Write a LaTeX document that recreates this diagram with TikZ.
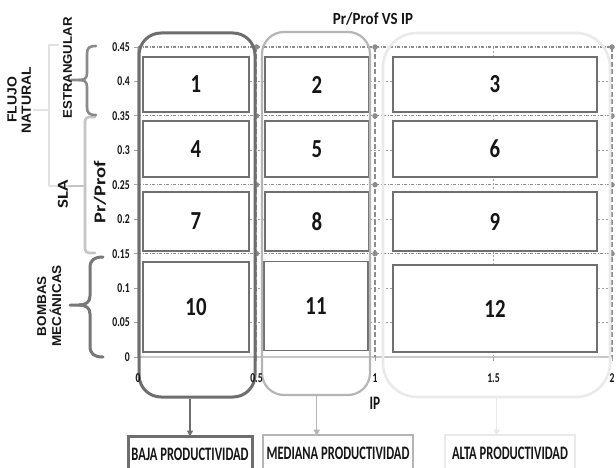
\documentclass[tikz,border=0pt]{standalone}
\usepackage{fontspec}
\setmainfont{Carlito}
\newfontfamily\arialf{Liberation Sans}
\usepackage{graphicx}
\usetikzlibrary{arrows.meta}
\definecolor{grpdark}{HTML}{6E6E6E}
\definecolor{grpmid}{HTML}{B5B5B5}
\definecolor{grplight}{HTML}{EAEAEA}
\definecolor{boxline}{HTML}{707070}
\definecolor{gridc}{HTML}{A0A0A0}
\definecolor{serc}{HTML}{8C8C8C}
\definecolor{braceA}{HTML}{8A8A8A}
\definecolor{braceB}{HTML}{C4C4C4}
\definecolor{braceC}{HTML}{E2E2E2}
\definecolor{braceD}{HTML}{777777}
\definecolor{axisc}{HTML}{C8C8C8}
\definecolor{txt}{HTML}{151515}
\newcommand{\hsq}[2]{\scalebox{#1}[1]{#2}}
\newcommand{\vsq}[2]{\scalebox{1}[#1]{#2}}
\begin{document}
\begin{tikzpicture}[x=1pt,y=-1pt,
  every node/.style={text=txt},
  cell/.style={draw=boxline,line width=1.3pt,fill=white,inner sep=0pt,font=\fontsize{26}{26}\selectfont\bfseries},
  grp/.style={rounded corners=22pt,inner sep=0pt},
  botbox/.style={inner sep=0pt,font=\fontsize{19}{19}\selectfont\bfseries},
  gridl/.style={gridc,line width=0.8pt,dash pattern=on 2pt off 2pt},
  serl/.style={serc,line width=1.1pt,dash pattern=on 3pt off 1.5pt on 1pt off 1.5pt},
  verl/.style={serc,line width=1.1pt,dash pattern=on 5pt off 2.5pt},
  mk/.style={circle,fill=serc,inner sep=0pt,minimum size=5.5pt},
  tickl/.style={font=\fontsize{13.5}{13.5}\selectfont\bfseries,inner sep=0pt},
  arr/.style={-{Triangle[length=6pt,width=6pt]}},
  brc/.style={line width=2.6pt,line cap=round,line join=round}
]
\useasboundingbox (0,0) rectangle (616,468);
\clip (0,0) rectangle (616,468);
\fill[white] (0,0) rectangle (616,468);

% grid lines behind
\foreach \yy in {81.4,150.3,219.2,288.1,322.6}
  \draw[gridl] (138,\yy) -- (612,\yy);
\draw[gridl] (493.5,47) -- (493.5,357);
% axes
\draw[axisc,line width=1.6pt] (138,357) -- (612,357);
\draw[axisc,line width=1.6pt] (138,47) -- (138,357);
\foreach \yy in {47,81.4,115.9,150.3,184.8,219.2,253.7,288.1,322.6,357}
  \draw[gridc,line width=0.8pt] (134,\yy) -- (138,\yy);
\foreach \xx in {256.5,375,493.5,612}
  \draw[gridc,line width=0.8pt] (\xx,357) -- (\xx,361);
% series lines
\foreach \yy in {47,115.9,184.8,253.7}
  \draw[serl] (138,\yy) -- (612,\yy);
\foreach \xx in {256.5,375,612}
  \draw[verl] (\xx,47) -- (\xx,357);
\foreach \yy in {47,115.9,184.8,253.7}
  \foreach \xx in {256.5,375,612}
    \node[mk] at (\xx,\yy) {};

% cells
\node[cell,minimum width=106pt,minimum height=55pt] (c1) at (196,84.5) {\hsq{0.8}{1}};
\node[cell,minimum width=104pt,minimum height=55pt] (c2) at (317,84.5) {\hsq{0.8}{2}};
\node[cell,minimum width=204pt,minimum height=55pt] (c3) at (495,84.5) {\hsq{0.8}{3}};
\node[cell,minimum width=106pt,minimum height=56pt] (c4) at (196,149) {\hsq{0.8}{4}};
\node[cell,minimum width=104pt,minimum height=56pt] (c5) at (317,149) {\hsq{0.8}{5}};
\node[cell,minimum width=204pt,minimum height=56pt] (c6) at (495,149) {\hsq{0.8}{6}};
\node[cell,minimum width=106pt,minimum height=59pt] (c7) at (196,221.5) {\hsq{0.8}{7}};
\node[cell,minimum width=104pt,minimum height=59pt] (c8) at (317,221.5) {\hsq{0.8}{8}};
\node[cell,minimum width=204pt,minimum height=59pt] (c9) at (495,221.5) {\hsq{0.8}{9}};
\node[cell,minimum width=106pt,minimum height=90pt] (c10) at (196,307) {\hsq{0.8}{10}};
\node[cell,minimum width=104pt,minimum height=89pt] (c11) at (316,306) {\hsq{0.8}{11}};
\node[cell,minimum width=204pt,minimum height=87pt] (c12) at (495,308.5) {\hsq{0.8}{12}};

% group outlines
\node[grp,draw=grplight,line width=2.6pt,rounded corners=34pt,minimum width=227pt,minimum height=364pt] (gC) at (496.5,215) {};
\node[grp,draw=grpmid,line width=2.2pt,minimum width=108pt,minimum height=363pt] (gB) at (316,213.5) {};
\node[grp,draw=grpdark,line width=3pt,minimum width=116pt,minimum height=364pt] (gA) at (197,215) {};

% y tick labels
\foreach \yy/\lab in {47/0.45,81.4/0.4,115.9/0.35,150.3/0.3,184.8/0.25,219.2/0.2,253.7/0.15,288.1/0.1,322.6/0.05,357/0}
  \node[tickl,anchor=east] at (130,\yy) {\hsq{0.72}{\lab}};
% x tick labels
\foreach \xx/\lab in {138/0,256.5/0.5,375/1,493.5/1.5,612/2}
  \node[tickl] at (\xx,378) {\hsq{0.72}{\lab}};
\node[font=\fontsize{19}{19}\selectfont\bfseries,inner sep=0pt] (xlab) at (375,403) {\hsq{0.7}{IP}};
\node[font=\fontsize{17}{17}\selectfont\bfseries,inner sep=0pt] (title) at (373,19) {\hsq{0.88}{Pr/Prof VS IP}};

% bottom boxes
\node[botbox,draw=grpdark,line width=3pt,minimum width=124pt,minimum height=36pt] (bA) at (190,454) {\hsq{0.66}{BAJA PRODUCTIVIDAD}};
\node[botbox,draw=grpmid,line width=2.6pt,minimum width=150pt,minimum height=37pt] (bB) at (338,453.5) {\hsq{0.66}{MEDIANA PRODUCTIVIDAD}};
\node[botbox,draw=grplight,line width=2.6pt,minimum width=130pt,minimum height=37pt] (bC) at (510,453.5) {\hsq{0.66}{ALTA PRODUCTIVIDAD}};

% arrows
\draw[arr,grpdark,line width=2pt] (gA.south -| bA.north) -- ([yshift=-2pt]bA.north);
\draw[arr,grpmid,line width=1.5pt] (gB.south -| 316.7,0) -- ([yshift=-2pt]bB.north -| 316.7,0);
\draw[arr,grplight,line width=1.5pt] (gC.south -| 496.7,0) -- ([yshift=-2pt]bC.north -| 496.7,0);

% left braces
\draw[brc,braceC] (58,45) -- (49,45) -- (49,186) -- (68,186);
\draw[brc,braceC] (49,110) -- (34,110);
\draw[brc,braceB,rounded corners=4pt] (95,117) -- (85,117) -- (85,253) -- (95,253);
\draw[brc,braceB] (85,186) -- (69,186);
\draw[brc,braceA] (96,46) .. controls (89,46) and (87,48) .. (87,54) -- (87,73) .. controls (87,78) and (85,80) .. (79,80) -- (71,80);
\draw[brc,braceA] (79,80) .. controls (85,80) and (87,82) .. (87,87) -- (87,107) .. controls (87,113) and (89,115) .. (96,115);
\draw[brc,braceD,line width=3pt] (103,257) .. controls (94,257) and (90,260) .. (90,268) -- (90,296) .. controls (90,302) and (86,305) .. (79,305) -- (70,305);
\draw[brc,braceD,line width=3pt] (79,305) .. controls (86,305) and (90,308) .. (90,314) -- (90,346) .. controls (90,354) and (94,357) .. (103,357);

% left labels
\node[rotate=90,inner sep=0pt] (lflujo) at (21,100) {\vsq{0.95}{\arialf\bfseries\fontsize{14}{15}\selectfont\begin{tabular}{@{}c@{}}FLUJO\\NATURAL\end{tabular}}};
\node[rotate=90,inner sep=0pt] (lestr) at (67.5,68) {\vsq{0.95}{\arialf\bfseries\fontsize{13.2}{13}\selectfont ESTRANGULAR}};
\node[rotate=90,inner sep=0pt] (lsla) at (63,194) {\vsq{0.8}{\bfseries\fontsize{19}{19}\selectfont SLA}};
\node[rotate=90,inner sep=0pt] (lpr) at (100,192) {\vsq{0.8}{\bfseries\fontsize{20.5}{20}\selectfont Pr/Prof}};
\node[rotate=90,inner sep=0pt] (lbomb) at (51,306) {\vsq{0.95}{\arialf\bfseries\fontsize{13.5}{13}\selectfont\begin{tabular}{@{}c@{}}BOMBAS\\MEC\'ANICAS\end{tabular}}};
\end{tikzpicture}
\end{document}
